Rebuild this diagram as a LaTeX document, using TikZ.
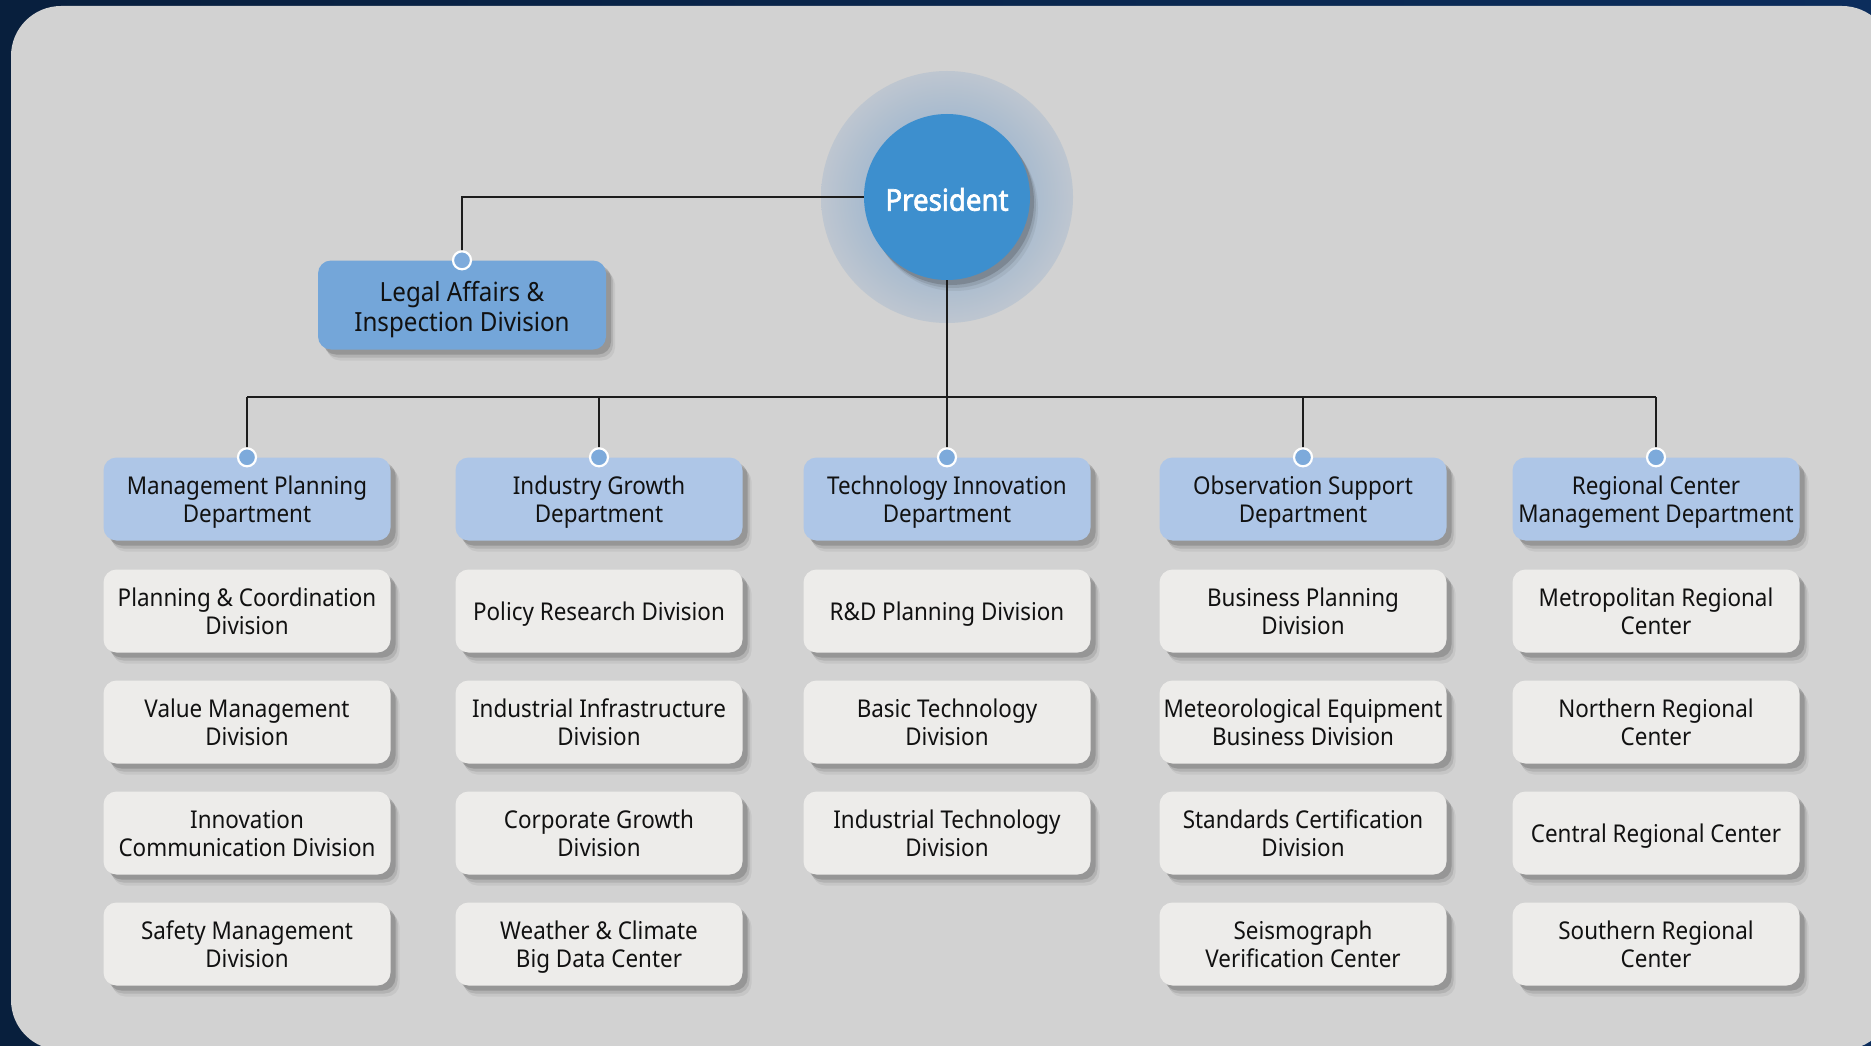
\documentclass[tikz,border=0pt]{standalone}
\usepackage{fontspec}
\setmainfont{Noto Sans}[FakeStretch=0.915]
\newfontfamily\presfont{Noto Sans}[FakeStretch=0.92, FakeBold=2.2]
\usetikzlibrary{shadows}
\definecolor{navyL}{HTML}{081F3D}
\definecolor{navyR}{HTML}{0C2D5C}
\definecolor{panel}{HTML}{D2D2D2}
\definecolor{presblue}{HTML}{3D8FCE}
\definecolor{deptblue}{HTML}{AEC6E7}
\definecolor{legalblue}{HTML}{74A6D9}
\definecolor{divfill}{HTML}{EDECEA}
\definecolor{dotblue}{HTML}{7DAADB}
\definecolor{haloIn}{HTML}{7FA6CC}
\definecolor{haloOut}{HTML}{BEC6D0}
\definecolor{txt}{HTML}{111111}
\definecolor{linec}{HTML}{1C1C1C}
\newcommand\lbl[2][3.9pt]{\raisebox{-#1}[\height][\depth]{\begin{tabular}{@{}c@{}}#2\end{tabular}}}
\tikzset{
  softshadow/.style={
    drop shadow={shadow xshift=5pt, shadow yshift=-5pt, opacity=0.24, fill=black!75},
    drop shadow={shadow xshift=7pt, shadow yshift=-8pt, opacity=0.15, fill=black!75},
    drop shadow={shadow xshift=9pt, shadow yshift=-11pt, opacity=0.08, fill=black!75}},
  boxbase/.style={rectangle, rounded corners=13pt, minimum width=287pt, minimum height=83pt,
    inner sep=0pt, text=txt, font=\fontsize{24.5}{28}\selectfont, softshadow},
  dept/.style={boxbase, fill=deptblue},
  divbox/.style={boxbase, fill=divfill},
  legalbox/.style={boxbase, fill=legalblue, minimum width=288pt, minimum height=89pt,
    font=\fontsize{26.4}{30}\selectfont},
  conn/.style={draw=linec, line width=1.5pt},
  dotnode/.style={circle, fill=dotblue, draw=white, line width=2.2pt, minimum size=18pt, inner sep=0pt},
  presnode/.style={circle, fill=presblue, minimum size=166pt, inner sep=0pt, text=white,
    font=\presfont\fontsize{30}{34}\selectfont,
    drop shadow={shadow xshift=4pt, shadow yshift=-5pt, opacity=0.22, fill=black!80},
    drop shadow={shadow xshift=6pt, shadow yshift=-8pt, opacity=0.13, fill=black!80},
    drop shadow={shadow xshift=8pt, shadow yshift=-11pt, opacity=0.08, fill=black!80}},
  halonode/.style={circle, minimum size=252pt, inner sep=0pt, inner color=haloIn, outer color=haloOut}
}
\begin{document}
\begin{tikzpicture}[x=1pt,y=-1pt]
\useasboundingbox (0,0) rectangle (1871,1046);
\shade[left color=navyL, right color=navyR] (0,0) rectangle (1871,1046);
\fill[panel, rounded corners=50pt] (11,6) rectangle (1892,1050);

% President
\node[halonode] (halo) at (947,197) {};
\node[presnode] (pres) at (947,197) {\lbl[6.9pt]{President}};

% Legal
\node[legalbox] (legal) at (462,305) {\lbl[5.2pt]{Legal Affairs \&\\Inspection Division}};

% Column 1
\node[dept] (d1) at (247,499) {\lbl{Management Planning\\Department}};
\node[divbox] (c1r1) at (247,611) {\lbl{Planning \& Coordination\\Division}};
\node[divbox] (c1r2) at (247,722) {\lbl{Value Management\\Division}};
\node[divbox] (c1r3) at (247,833) {\lbl{Innovation\\Communication Division}};
\node[divbox] (c1r4) at (247,944) {\lbl{Safety Management\\Division}};

% Column 2
\node[dept] (d2) at (599,499) {\lbl{Industry Growth\\Department}};
\node[divbox] (c2r1) at (599,611) {\lbl{Policy Research Division}};
\node[divbox] (c2r2) at (599,722) {\lbl{Industrial Infrastructure\\Division}};
\node[divbox] (c2r3) at (599,833) {\lbl{Corporate Growth\\Division}};
\node[divbox] (c2r4) at (599,944) {\lbl{Weather \& Climate\\Big Data Center}};

% Column 3
\node[dept] (d3) at (947,499) {\lbl{Technology Innovation\\Department}};
\node[divbox] (c3r1) at (947,611) {\lbl{R\&D Planning Division}};
\node[divbox] (c3r2) at (947,722) {\lbl{Basic Technology\\Division}};
\node[divbox] (c3r3) at (947,833) {\lbl{Industrial Technology\\Division}};

% Column 4
\node[dept] (d4) at (1303,499) {\lbl{Observation Support\\Department}};
\node[divbox] (c4r1) at (1303,611) {\lbl{Business Planning\\Division}};
\node[divbox] (c4r2) at (1303,722) {\lbl{Meteorological Equipment\\Business Division}};
\node[divbox] (c4r3) at (1303,833) {\lbl{Standards Certification\\Division}};
\node[divbox] (c4r4) at (1303,944) {\lbl{Seismograph\\Verification Center}};

% Column 5
\node[dept] (d5) at (1656,499) {\lbl{Regional Center\\Management Department}};
\node[divbox] (c5r1) at (1656,611) {\lbl{Metropolitan Regional\\Center}};
\node[divbox] (c5r2) at (1656,722) {\lbl{Northern Regional\\Center}};
\node[divbox] (c5r3) at (1656,833) {\lbl{Central Regional Center}};
\node[divbox] (c5r4) at (1656,944) {\lbl{Southern Regional\\Center}};

% Connectors
\coordinate (busL) at (247,397);
\coordinate (busR) at (1656,397);
\draw[conn] (pres.west) -| (legal.north);
\draw[conn] (pres.south) -- (pres.south |- busL);
\draw[conn] (busL) -- (busR);
\foreach \d in {d1,d2,d3,d4,d5}{
  \draw[conn] (\d.north |- busL) -- (\d.north);
}
\node[dotnode] (legaldot) at (legal.north) {};
\foreach \d in {d1,d2,d3,d4,d5}{
  \node[dotnode] (\d dot) at (\d.north) {};
}
\end{tikzpicture}
\end{document}
